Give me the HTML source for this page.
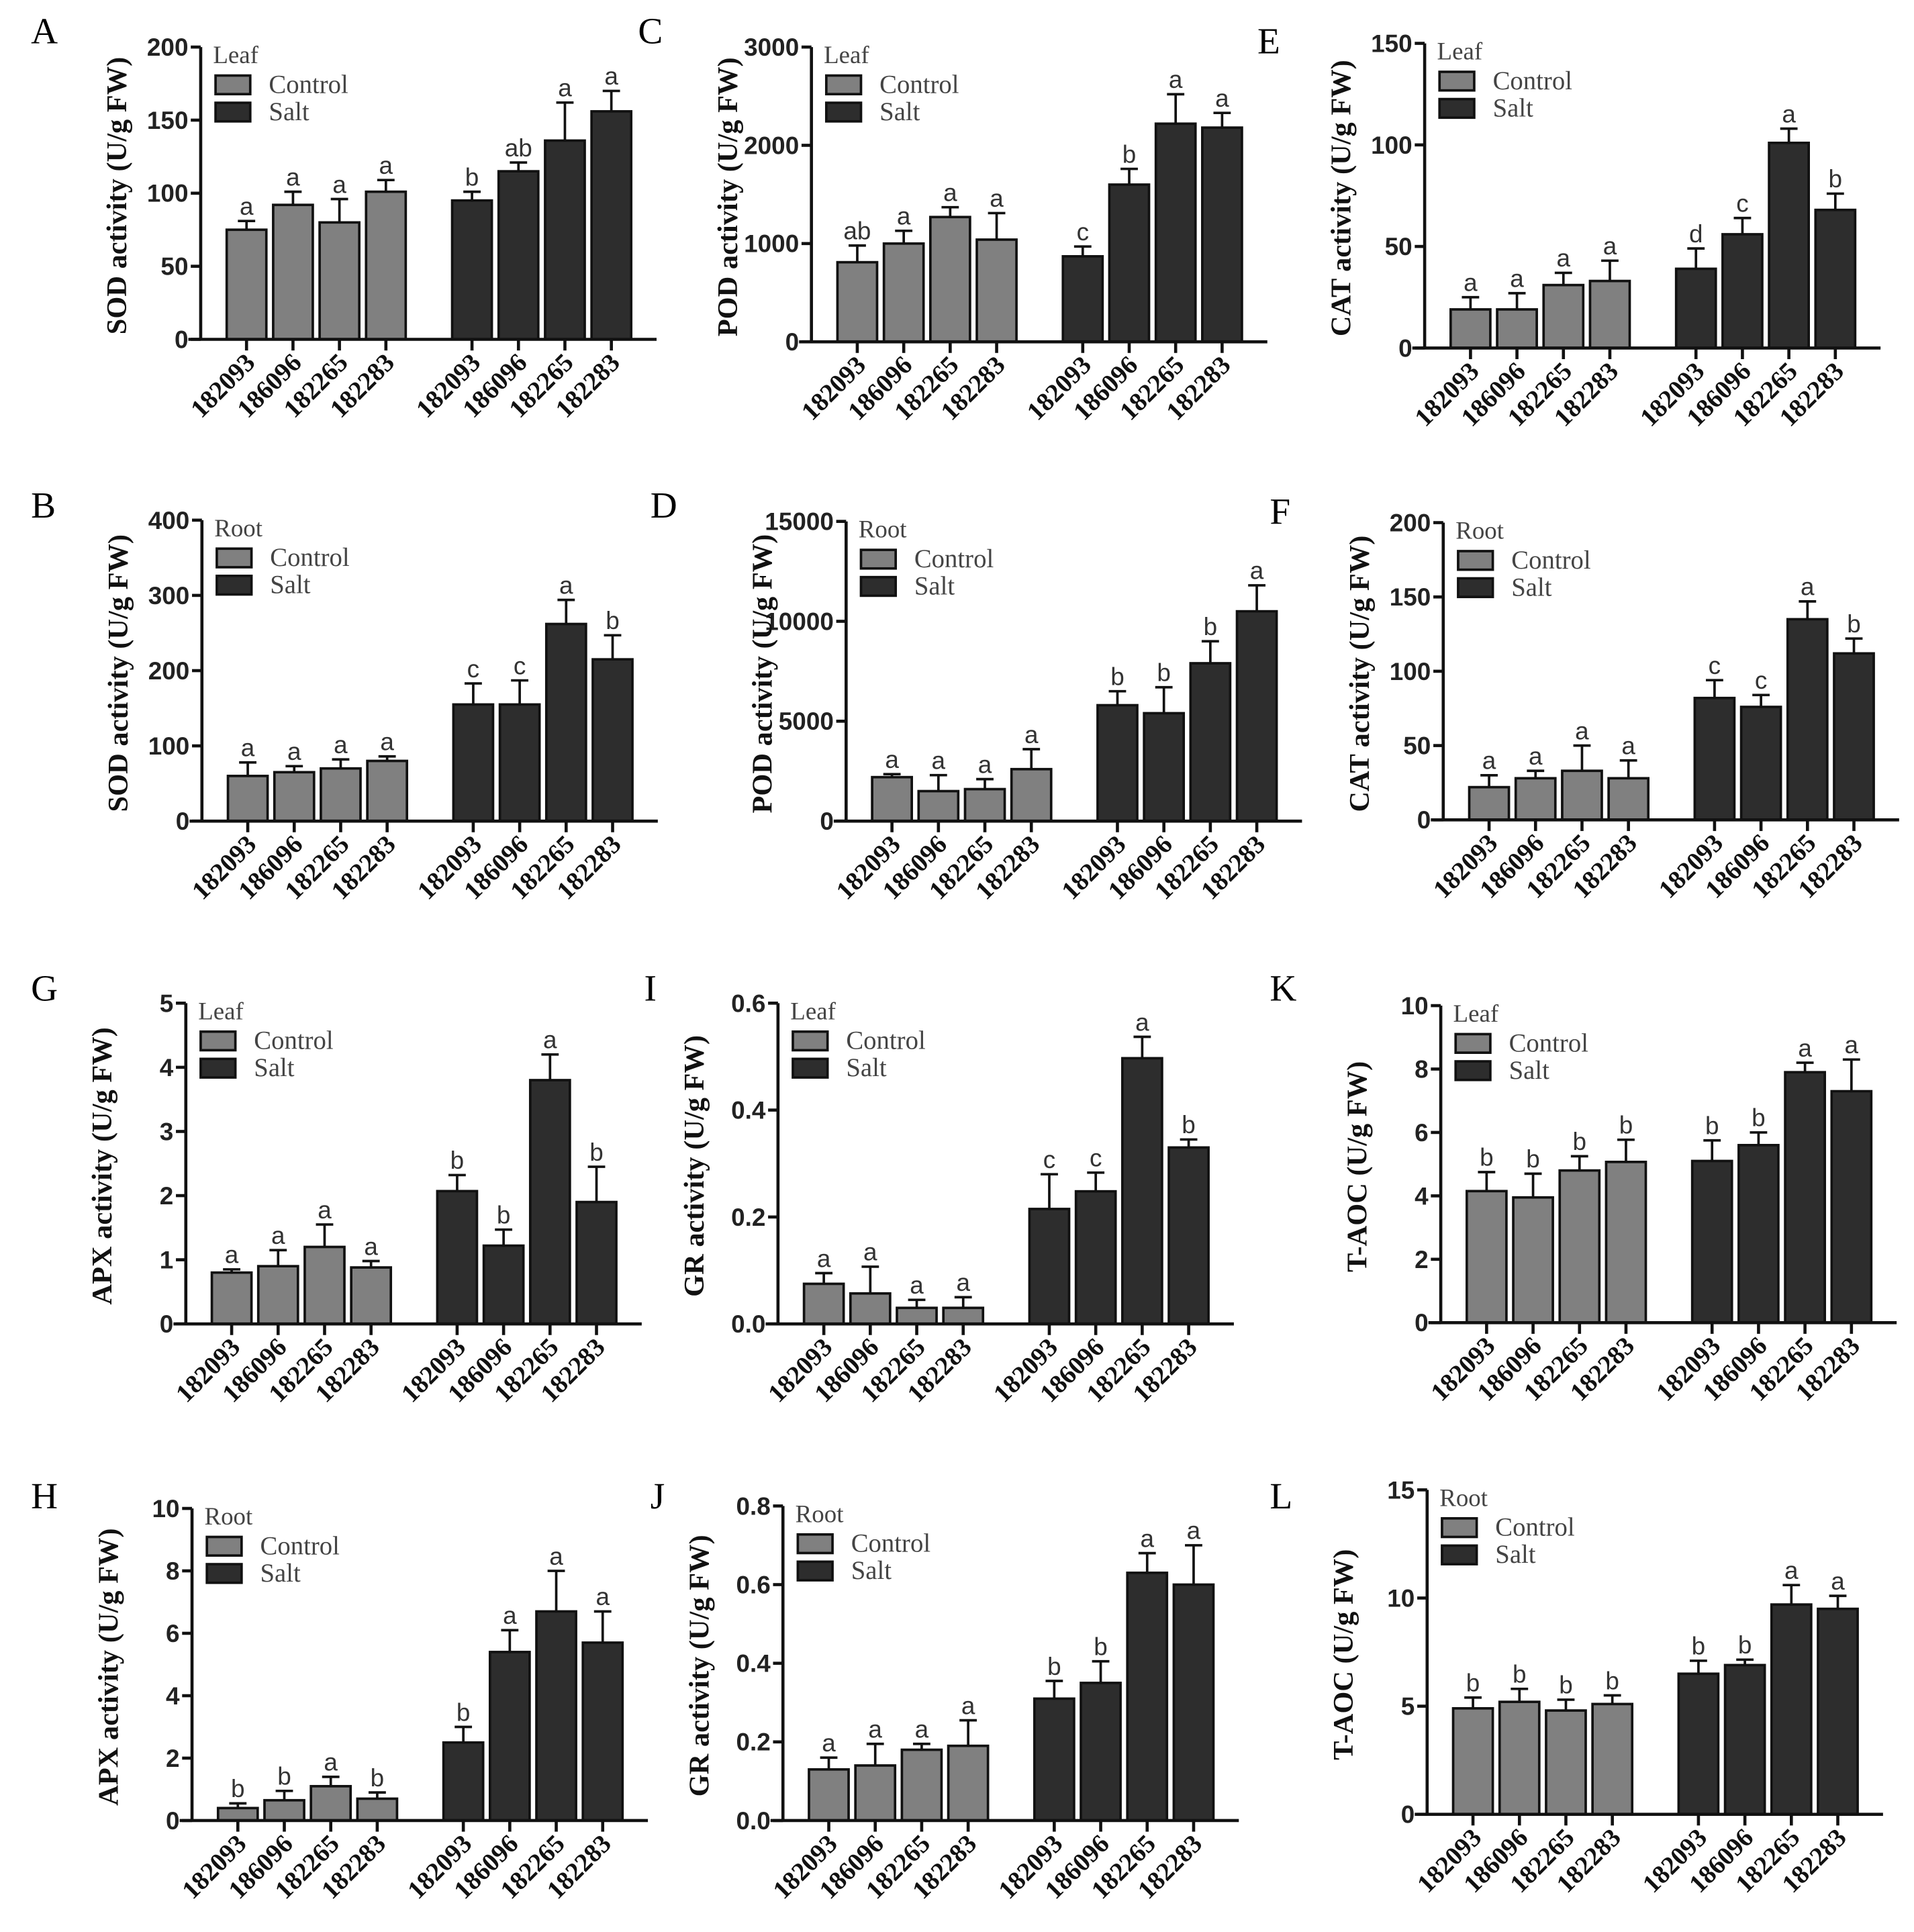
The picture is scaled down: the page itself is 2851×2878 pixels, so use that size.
<!DOCTYPE html>
<html><head><meta charset="utf-8"><style>
html,body{margin:0;padding:0;background:#fff}
svg{display:block}
</style></head><body>
<svg id="fig" width="2851" height="2878" viewBox="0 0 1545 1560" preserveAspectRatio="none" xmlns="http://www.w3.org/2000/svg"></svg>
<script>
const genotypes = ["182093","186096","182265","182283"];
const panelIds = ["A","C","E","B","D","F","G","I","K","H","J","L"];
const yTitles = ["SOD activity (U/g FW)","POD activity (U/g FW)","CAT activity (U/g FW)","SOD activity (U/g FW)","POD activity (U/g FW)","CAT activity (U/g FW)","APX activity (U/g FW)","GR activity (U/g FW)","T-AOC (U/g FW)","APX activity (U/g FW)","GR activity (U/g FW)","T-AOC (U/g FW)"];
const tissues = ["Leaf","Leaf","Leaf","Root","Root","Root","Leaf","Leaf","Leaf","Root","Root","Root"];
const yMax = [200,3000,150,400,15000,200,5,0.6,10,10,0.8,15];
const yStep = [50,1000,50,100,5000,50,1,0.2,2,2,0.2,5];
const yDecimals = [0,0,0,0,0,0,0,1,0,0,1,0];
const controlVals = [[75,92,80,101],[810,1000,1270,1040],[19,19,31,33],[60,65,70,80],[2200,1500,1600,2600],[22,28,33,28],[0.8,0.9,1.2,0.88],[0.075,0.057,0.03,0.03],[4.15,3.95,4.8,5.07],[0.4,0.65,1.1,0.7],[0.13,0.14,0.18,0.19],[4.9,5.2,4.8,5.1]];
const controlErr = [[6,9,16,8],[170,130,100,270],[6,8,6,10],[18,8,12,6],[150,800,500,1000],[8,5,17,12],[0.05,0.25,0.35,0.1],[0.02,0.05,0.015,0.02],[0.6,0.75,0.45,0.7],[0.15,0.3,0.3,0.2],[0.03,0.055,0.015,0.065],[0.5,0.6,0.5,0.4]];
const controlLetters = [["a","a","a","a"],["ab","a","a","a"],["a","a","a","a"],["a","a","a","a"],["a","a","a","a"],["a","a","a","a"],["a","a","a","a"],["a","a","a","a"],["b","b","b","b"],["b","b","a","b"],["a","a","a","a"],["b","b","b","b"]];
const saltVals = [[95,115,136,156],[870,1600,2220,2180],[39,56,101,68],[155,155,262,215],[5800,5400,7900,10500],[82,76,135,112],[2.07,1.22,3.8,1.9],[0.215,0.248,0.497,0.33],[5.1,5.6,7.9,7.3],[2.5,5.4,6.7,5.7],[0.31,0.35,0.63,0.6],[6.5,6.9,9.7,9.5]];
const saltErr = [[6,6,26,14],[100,160,300,150],[10,8,7,8],[28,32,32,32],[700,1300,1100,1300],[12,8,12,10],[0.25,0.25,0.4,0.55],[0.065,0.035,0.04,0.015],[0.65,0.4,0.3,1.0],[0.5,0.7,1.3,1.0],[0.045,0.055,0.05,0.1],[0.6,0.25,0.9,0.6]];
const saltLetters = [["b","ab","a","a"],["c","b","a","a"],["d","c","a","b"],["c","c","a","b"],["b","b","b","a"],["c","c","a","b"],["b","b","a","b"],["c","c","a","b"],["b","b","a","a"],["b","a","a","a"],["b","b","a","a"],["b","b","a","a"]];

const axisX = [162,655,1150,163,683,1165,150,628,1163,155,632,1152];
const axisTop = [38,38,35,420,421,422,810,810,812,1218,1216,1203];
const axisBot = [274,276,281,663,663,662,1069,1069,1068,1470,1470,1465];
const letterPos = [[25,35],[515,35],[1015,43],[25,418],[525,418],[1025,423],[25,808],[520,808],[1025,808],[25,1218],[525,1218],[1025,1218]];

const NS="http://www.w3.org/2000/svg";
const svg=document.getElementById('fig');
function mk(tag,attrs,parent,text){const e=document.createElementNS(NS,tag);for(const k in attrs)e.setAttribute(k,attrs[k]);if(text!==undefined)e.textContent=text;(parent||svg).appendChild(e);return e;}

panelIds.forEach((pid,p)=>{
  const g=mk('g',{});
  
  
  const X0=axisX[p], yT=axisTop[p], y0=axisBot[p];
  const ys=v=>y0-(v/yMax[p])*(y0-yT);
  const xs=(grp,i)=>X0+37+37.5*i+(grp?182:0);
  const bw=32;
  const pl=mk('text',{x:letterPos[p][0],y:letterPos[p][1],'font-family':'Liberation Serif, serif','font-size':30},g,pid);
  
  
  [[controlVals,controlErr,controlLetters,'#808080'],[saltVals,saltErr,saltLetters,'#2d2d2d']].forEach((s,grp)=>{
    for(let i=0;i<4;i++){
      const v=s[0][p][i], e=s[1][p][i], cx=xs(grp,i);
      const top=ys(v), et=ys(v+e);
      mk('line',{x1:cx,x2:cx,y1:top,y2:et,stroke:'#111','stroke-width':2},g);
      mk('line',{x1:cx-7,x2:cx+7,y1:et,y2:et,stroke:'#111','stroke-width':2},g);
      const r=mk('rect',{x:cx-bw/2,y:top,width:bw,height:y0-top,fill:s[3],stroke:'#111','stroke-width':2},g);
      
      
      const t=mk('text',{x:cx,y:et-5,'text-anchor':'middle','font-family':'Liberation Sans, sans-serif','font-size':20,fill:'#333'},g,s[2][p][i]);
      
      
      mk('line',{x1:cx,x2:cx,y1:y0,y2:y0+9,stroke:'#111','stroke-width':2.5},g);
      const xl=mk('text',{x:0,y:0,transform:`translate(${cx+8},${y0+20}) rotate(-45)`,'text-anchor':'end','font-family':'Liberation Serif, serif','font-weight':'bold','font-size':21,fill:'#111'},g,genotypes[i]);
      
      
    }
  });
  mk('line',{x1:X0,x2:X0,y1:yT,y2:y0,stroke:'#111','stroke-width':2.5},g);
  mk('line',{x1:X0-10,x2:X0+368,y1:y0,y2:y0,stroke:'#111','stroke-width':2.5},g);
  for(let v=0;v<=yMax[p]+1e-9;v+=yStep[p]){
    const y=ys(v);
    mk('line',{x1:X0-8,x2:X0,y1:y,y2:y,stroke:'#111','stroke-width':2.5},g);
    const tl=mk('text',{x:X0-10,y:y+7,'text-anchor':'end','font-family':'Liberation Sans, sans-serif','font-weight':'bold','font-size':20,fill:'#222'},g,v.toFixed(yDecimals[p]));
    
    
  }
  const yc=(yT+y0)/2;
  const yt=mk('text',{x:0,y:0,transform:`translate(${X0-60},${yc+2}) rotate(-90)`,'text-anchor':'middle','font-family':'Liberation Serif, serif','font-weight':'bold','font-size':23,fill:'#111'},g,yTitles[p]);
  
  
  const lx=X0+10, ly=yT+13;
  const lt=mk('text',{x:lx,y:ly,'font-family':'Liberation Serif, serif','font-size':20,fill:'#444'},g,tissues[p]);
  
  
  [['Control','#808080'],['Salt','#2d2d2d']].forEach((L,k)=>{
    const yy=ly+10+k*22;
    const sw=mk('rect',{x:lx+2,y:yy,width:28,height:15,fill:L[1],stroke:'#111','stroke-width':2},g);
    
    
    const tx=mk('text',{x:lx+45,y:yy+14,'font-family':'Liberation Serif, serif','font-size':21,fill:'#444'},g,L[0]);
    
    
  });
});
</script>
</body></html>
